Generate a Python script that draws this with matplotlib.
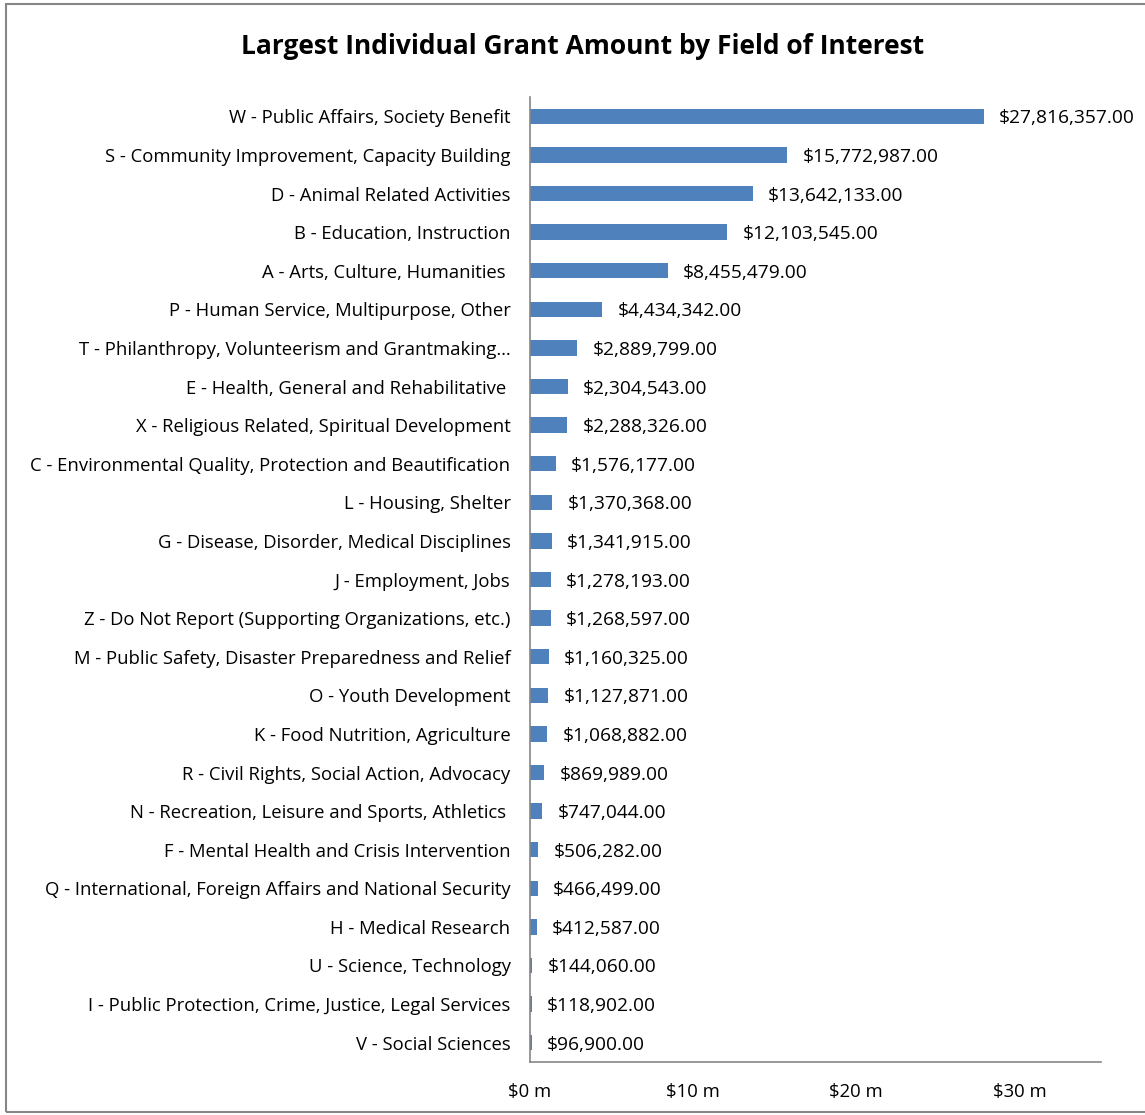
import matplotlib
matplotlib.use("Agg")
import matplotlib.pyplot as plt
from matplotlib.patches import Rectangle

categories = [
    "W - Public Affairs, Society Benefit",
    "S - Community Improvement, Capacity Building",
    "D - Animal Related Activities",
    "B - Education, Instruction",
    "A - Arts, Culture, Humanities ",
    "P - Human Service, Multipurpose, Other",
    "T - Philanthropy, Volunteerism and Grantmaking\u2026",
    "E - Health, General and Rehabilitative ",
    "X - Religious Related, Spiritual Development",
    "C - Environmental Quality, Protection and Beautification",
    "L - Housing, Shelter",
    "G - Disease, Disorder, Medical Disciplines",
    "J - Employment, Jobs",
    "Z - Do Not Report (Supporting Organizations, etc.)",
    "M - Public Safety, Disaster Preparedness and Relief",
    "O - Youth Development",
    "K - Food Nutrition, Agriculture",
    "R - Civil Rights, Social Action, Advocacy",
    "N - Recreation, Leisure and Sports, Athletics ",
    "F - Mental Health and Crisis Intervention",
    "Q - International, Foreign Affairs and National Security",
    "H - Medical Research",
    "U - Science, Technology",
    "I - Public Protection, Crime, Justice, Legal Services",
    "V - Social Sciences",
]
values = [
    27816357.00, 15772987.00, 13642133.00, 12103545.00, 8455479.00,
    4434342.00, 2889799.00, 2304543.00, 2288326.00, 1576177.00,
    1370368.00, 1341915.00, 1278193.00, 1268597.00, 1160325.00,
    1127871.00, 1068882.00, 869989.00, 747044.00, 506282.00,
    466499.00, 412587.00, 144060.00, 118902.00, 96900.00,
]
xticks_m = [0, 10, 20, 30]
xtick_labels = ["$0 m", "$10 m", "$20 m", "$30 m"]

FONT = "Open Sans"
plt.rcParams["font.family"] = [FONT, "DejaVu Sans"]

fig = plt.figure(figsize=(11.45, 11.15), dpi=100)
ax = fig.add_axes([530 / 1145, 1 - 1062 / 1115, (1101 - 530) / 1145, (1062 - 97) / 1115])

vals_m = [v / 1e6 for v in values]
ypos = list(range(len(categories)))
ax.barh(ypos, vals_m, height=0.4, color="#4F81BD")
ax.set_ylim(len(categories) - 0.5, -0.5)
ax.set_xlim(0, 35)
ax.set_yticks(ypos)
ax.set_yticklabels(categories, fontsize=13.3)
ax.set_xticks(xticks_m)
ax.set_xticklabels(xtick_labels, fontsize=13.3)
ax.tick_params(axis="both", length=0)
ax.tick_params(axis="y", pad=14)
ax.tick_params(axis="x", pad=15)
for s in ["top", "right"]:
    ax.spines[s].set_visible(False)
for s in ["left", "bottom"]:
    ax.spines[s].set_color("#868686")
    ax.spines[s].set_linewidth(1.2)

for y, v, vm in zip(ypos, values, vals_m):
    ax.annotate(f"${v:,.2f}", (vm, y), xytext=(11, 0), textcoords="offset points",
                va="center_baseline", ha="left", fontsize=13.8)

fig.text(583 / 1145, 1 - 46 / 1115, "Largest Individual Grant Amount by Field of Interest",
         ha="center", va="center", fontsize=19, fontweight="bold")

fig.patches.append(Rectangle((6 / 1145, 3 / 1115), 1.2, 1 - 7 / 1115, transform=fig.transFigure,
                             fill=False, edgecolor="#868686", linewidth=1.5))

fig.savefig("out.png", dpi=100)
